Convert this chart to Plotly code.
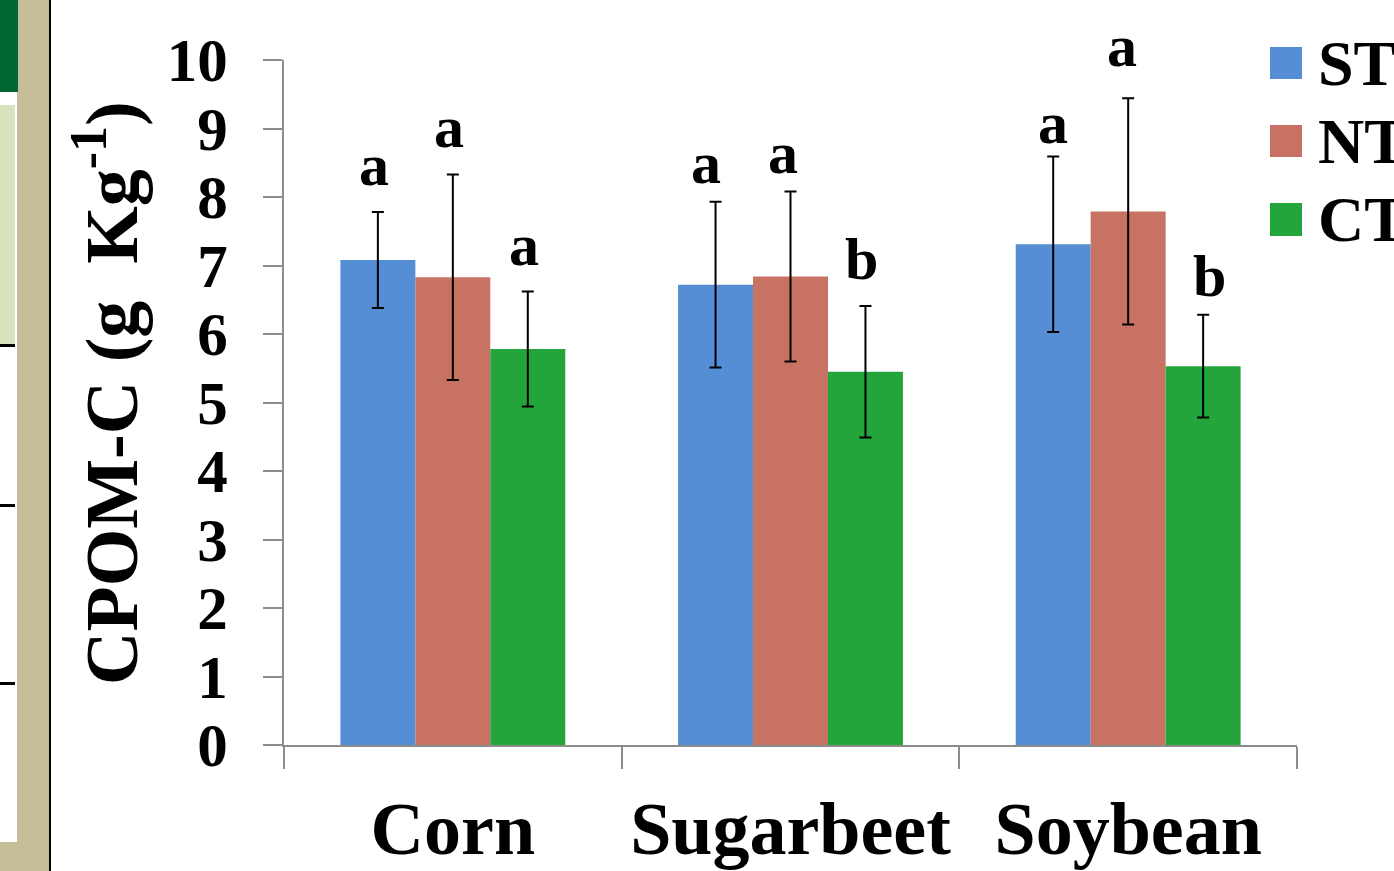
import plotly.graph_objects as go

# Particulate organic matter carbon by crop and tillage system
crops = ["Corn", "Sugarbeet", "Soybean"]
treatments = ["ST", "NT", "CT"]
st_vals = [7.08, 6.72, 7.31]
nt_vals = [6.83, 6.84, 7.79]
ct_vals = [5.78, 5.45, 5.53]
st_err = [0.70, 1.21, 1.28]
nt_err = [1.50, 1.24, 1.65]
ct_err = [0.84, 0.96, 0.75]
st_letters = ["a", "a", "a"]
nt_letters = ["a", "a", "a"]
ct_letters = ["a", "b", "b"]
colors = ["#558ED5", "#C87264", "#24A53B"]
y_ticks = list(range(11))

W, H = 1394, 871
L, R, T, B = 284, 1297, 60, 745  # plot area in pixels
FONT = "Liberation Serif"


def px_x(p):
    return (p - L) / (R - L)


def px_y(p):
    return (B - p) / (B - T)


series = [
    (st_vals, st_err, st_letters),
    (nt_vals, nt_err, nt_letters),
    (ct_vals, ct_err, ct_letters),
]

fig = go.Figure()
for name, (vals, errs, _), col in zip(treatments, series, colors):
    fig.add_trace(go.Bar(
        name=name, x=crops, y=vals,
        marker=dict(color=col, line=dict(width=0)),
        error_y=dict(type="data", array=errs, visible=True,
                     color="black", thickness=2, width=6),
        showlegend=False,
    ))

annotations = []
# significance letters above each error bar; small hand nudges (px) per label
nudge = {
    (0, 1): (-6, -8), (1, 1): (-4, -8),
    (0, 2): (4, -13), (1, 2): (-2, 5), (2, 2): (10, -8),
}
bar_px = 75
for k, (vals, errs, letters) in enumerate(series):
    for i, c in enumerate(crops):
        dx, dy = nudge.get((k, i), (0, 0))
        annotations.append(dict(
            x=c, y=vals[i] + errs[i], xref="x", yref="y",
            text=f"<b>{letters[i]}</b>", showarrow=False,
            xanchor="center", yanchor="bottom",
            xshift=(k - 1) * bar_px - 4 + dx, yshift=12 + dy,
            font=dict(family=FONT, size=60, color="black"),
        ))

# y axis title
annotations.append(dict(
    x=px_x(106), y=px_y(393), xref="paper", yref="paper",
    text="<b>CPOM-C (g  Kg<sup>-1</sup>)</b>", textangle=-90,
    showarrow=False, xanchor="center", yanchor="middle",
    font=dict(family=FONT, size=74, color="black"),
))

shapes = []
# legend keys
legend_rows = [(47, 79), (125, 157), (203, 236)]
for name, col, (y0, y1) in zip(treatments, colors, legend_rows):
    shapes.append(dict(type="rect", xref="paper", yref="paper",
                       x0=px_x(1270), x1=px_x(1302), y0=px_y(y1), y1=px_y(y0),
                       fillcolor=col, line=dict(width=0)))
    annotations.append(dict(
        x=px_x(1316), y=px_y((y0 + y1) / 2), xref="paper", yref="paper",
        text=f"<b>{name}</b>", showarrow=False, xanchor="left", yanchor="middle",
        font=dict(family=FONT, size=64, color="black"),
    ))


def rect(x0, y0, x1, y1, color):
    shapes.append(dict(type="rect", xref="paper", yref="paper", layer="below",
                       x0=px_x(x0), x1=px_x(x1), y0=px_y(y1), y1=px_y(y0),
                       fillcolor=color, line=dict(width=0)))


# side panel decoration
rect(17, 0, 49, H, "#C5BD98")
rect(0, 842, 49, H, "#C5BD98")
rect(49, 0, 51, H, "#000000")
rect(0, 0, 18, 92, "#006633")
rect(0, 105, 15, 344, "#D7E4BD")
for yl in (344, 504, 682):
    rect(0, yl, 15, yl + 3, "#000000")

fig.update_layout(
    width=W, height=H,
    margin=dict(l=L, r=W - R, t=T, b=H - B, pad=0),
    paper_bgcolor="white", plot_bgcolor="white",
    barmode="group", bargap=0.334, bargroupgap=0,
    annotations=annotations, shapes=shapes,
    font=dict(family=FONT, color="black"),
)
fig.update_yaxes(
    range=[0, 10], showgrid=False, zeroline=False, automargin=False,
    showline=True, linecolor="#8C8C8C", linewidth=2,
    ticks="outside", ticklen=19, tickwidth=2, tickcolor="#8C8C8C",
    tickfont=dict(family=FONT, size=61, color="black"),
    tickvals=y_ticks, ticktext=[f"<b>{v}</b>" for v in y_ticks],
    ticklabelstandoff=23,
)
fig.update_xaxes(
    showgrid=False, zeroline=False, automargin=False,
    showline=True, linecolor="#8C8C8C", linewidth=2,
    ticks="outside", ticklen=22, tickwidth=2, tickcolor="#8C8C8C",
    tickson="boundaries",
    tickfont=dict(family=FONT, size=74, color="black"),
    tickvals=crops, ticktext=[f"<b>{c}</b>" for c in crops],
    ticklabelstandoff=18,
)

fig.write_html("out.html")
